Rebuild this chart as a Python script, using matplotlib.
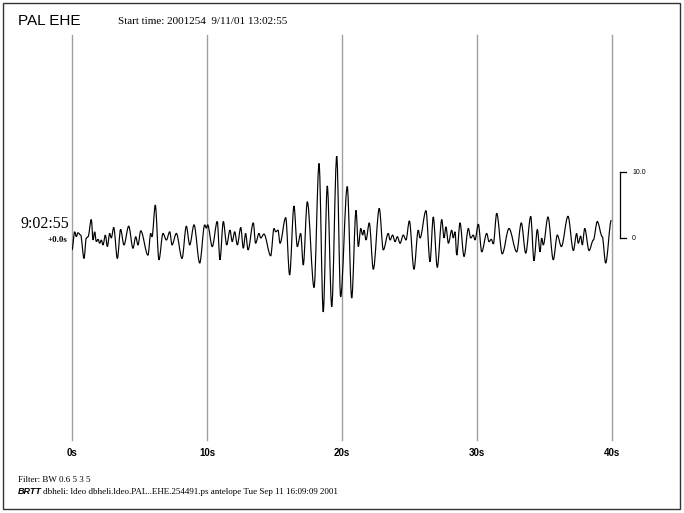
import matplotlib
matplotlib.use("Agg")
import matplotlib.pyplot as plt
from matplotlib.patches import Rectangle, PathPatch
from matplotlib.path import Path

# trace turning points (seconds after 13:02:55, counts)
t = [0.0, 0.2, 0.32, 0.44, 0.64, 0.89, 1.06, 1.19, 1.43, 1.56, 1.68, 1.8, 1.93, 2.05,
     2.17, 2.3, 2.47, 2.62, 2.79, 2.91, 3.09, 3.36, 3.6, 3.85, 4.2, 4.52, 4.72, 4.89,
     5.09, 5.63, 5.83, 5.93, 6.17, 6.44, 6.74, 6.99, 7.24, 7.41, 7.73, 8.15, 8.47, 8.72,
     9.04, 9.46, 9.83, 9.95, 10.05, 10.39, 10.76, 10.96, 11.21, 11.46, 11.7, 11.87, 12.05,
     12.25, 12.5, 12.69, 12.86, 13.04, 13.43, 13.6, 13.85, 13.98, 14.22, 14.72, 14.96,
     15.09, 15.26, 15.41, 15.83, 16.12, 16.44, 16.69, 16.94, 17.13, 17.43, 17.93, 18.3,
     18.61, 18.91, 19.24, 19.61, 19.9, 20.39, 20.72, 21.04, 21.21, 21.39, 21.53, 21.63,
     21.78, 22.02, 22.32, 22.76, 23.06, 23.43, 23.56, 23.75, 23.93, 24.1, 24.3, 24.54,
     24.74, 24.99, 25.33, 25.65, 25.78, 26.22, 26.52, 26.76, 27.06, 27.39, 27.56, 27.7,
     27.88, 28.13, 28.24, 28.37, 28.5, 28.74, 29.04, 29.36, 29.53, 29.73, 29.85, 30.1,
     30.35, 30.72, 30.89, 31.06, 31.21, 31.46, 31.87, 32.37, 32.94, 33.28, 33.61, 33.98,
     34.22, 34.47, 34.67, 34.79, 34.91, 35.26, 35.65, 35.95, 36.25, 36.74, 37.14, 37.38,
     37.5, 37.68, 37.8, 37.98, 38.3, 38.62, 38.91, 39.28, 39.53, 39.95]
amp = [-1.8, 0.95, 0.2, 0.8, 0.45, -3.1, 0.0, 0.2, 2.8, -0.3, 0.95, -0.55, -0.2, -0.8,
       -0.3, -1.05, 0.45, -1.3, 0.7, 0.0, 1.6, -3.1, 1.3, -1.05, 1.8, -1.55, 0.2, -1.05,
       1.1, -2.6, 0.7, 0.2, 5.0, -3.3, 0.7, -0.3, 0.95, -1.05, 0.7, -3.1, 1.8, -1.05,
       2.0, -3.8, 2.0, 1.5, 2.0, -1.3, 2.5, -3.3, 2.5, -1.05, 1.2, -0.55, 0.95,
       -1.05, 1.6, -1.55, 0.7, -1.8, 2.3, -0.8, 0.7, 0.0, 0.6, -2.7, 1.45,
       0.95, 1.2, -0.8, 3.1, -5.6, 4.85, -1.3, 0.7, -4.1, 5.5, -7.5, 11.3,
       -11.2, 7.9, -10.4, 12.4, -8.9, 7.8, -9.1, 4.2, -1.3, 1.45, 0.45, 1.2,
       -0.3, 2.3, -4.75, 4.5, -1.8, 0.7, -0.3, 0.45, -0.55, 0.2, -0.8, 0.45,
       -0.3, 2.6, -4.75, 1.2, 0.0, 4.15, -3.6, 3.2, -4.45, 2.8, 0.0, 1.7,
       -0.8, 1.2, 0.0, 0.95, -2.6, 2.3, -2.8, 1.45, 0.0, 0.45, -0.3, 2.1,
       -2.1, 0.7, -0.55, -0.2, -0.9, 3.75, -2.4, 1.45, -2.1, 2.3, -2.3, 3.3,
       -3.45, 1.3, -2.1, 0.0, -1.05, 3.2, -3.3, 0.45, -1.3, 3.3, -1.9, 0.7,
       -0.8, 0.3, -1.05, 1.45, -1.9, -0.3, 2.5, 0.2, -3.8, 2.7]

minute_ticks = [0, 10, 20, 30, 40]
tick_labels = ["0s", "10s", "20s", "30s", "40s"]
scale_lo, scale_hi = 0, 10.0

W, H = 684, 513
fig = plt.figure(figsize=(W / 100, H / 100), dpi=100)
fig.patch.set_facecolor("white")


def fx(px):
    return px / W


def fy(py):
    return 1 - py / H


# outer frame
fig.patches.append(Rectangle((fx(3), fy(509)), fx(677), 506 / H, transform=fig.transFigure,
                             fill=False, edgecolor="#333333", linewidth=1.0))

ax = fig.add_axes([fx(72), fy(440), fx(540), 405 / H])
ax.set_xlim(0, 40)
ax.set_ylim(-30.6, 30.76)
ax.axis("off")
for m in minute_ticks:
    ax.axvline(m, color="#a0a0a0", linewidth=1.0, zorder=1, clip_on=False)

# the turning points are joined with flat-topped bezier segments so the
# wiggles come out rounded like the pen trace rather than as zigzags
verts = [(t[0], amp[0])]
codes = [Path.MOVETO]
for i in range(len(t) - 1):
    d = (t[i + 1] - t[i]) / 3
    verts += [(t[i] + d, amp[i]), (t[i + 1] - d, amp[i + 1]), (t[i + 1], amp[i + 1])]
    codes += [Path.CURVE4] * 3
ax.add_patch(PathPatch(Path(verts, codes), fill=False, edgecolor="black",
                       linewidth=0.85, zorder=3))

# amplitude scale bar
ax.plot([40.6, 40.6], [scale_lo, scale_hi], color="black", linewidth=0.9, clip_on=False)
ax.plot([40.6, 41.0], [scale_hi, scale_hi], color="black", linewidth=0.9, clip_on=False)
ax.plot([40.6, 41.0], [scale_lo, scale_lo], color="black", linewidth=0.9, clip_on=False)
ax.text(41.5, scale_hi, "%.1f" % scale_hi, fontsize=5, family="Liberation Sans",
        va="center", ha="left")
ax.text(41.5, scale_lo, "%d" % scale_lo, fontsize=5, family="Liberation Sans",
        va="center", ha="left")

for m, lab in zip(minute_ticks, tick_labels):
    fig.text(fx(72 + m * 13.5), fy(453), lab, fontsize=7, fontweight="bold",
             family="Liberation Sans", ha="center", va="center")

fig.text(fx(18), fy(21), "PAL EHE", fontsize=11, family="Liberation Sans", va="center")
fig.text(fx(118), fy(21), "Start time: 2001254  9/11/01 13:02:55", fontsize=8,
         family="Liberation Serif", va="center")
fig.text(fx(69), fy(224), "9:02:55", fontsize=11.5, family="Liberation Serif",
         ha="right", va="center")
fig.text(fx(67), fy(240), "+0.0s", fontsize=6.5, fontweight="bold",
         family="Liberation Serif", ha="right", va="center")

fig.text(fx(18), fy(480), "Filter: BW 0.6 5 3 5", fontsize=6.5, family="Liberation Serif",
         va="center")
fig.text(fx(18), fy(492), "BRTT", fontsize=6.5, fontweight="bold", style="italic",
         family="Liberation Sans", va="center")
fig.text(fx(43), fy(492), "dbheli: ldeo dbheli.ldeo.PAL..EHE.254491.ps antelope Tue Sep 11 16:09:09 2001",
         fontsize=6.5, family="Liberation Serif", va="center")

fig.savefig("out.png", dpi=100, facecolor="white")
